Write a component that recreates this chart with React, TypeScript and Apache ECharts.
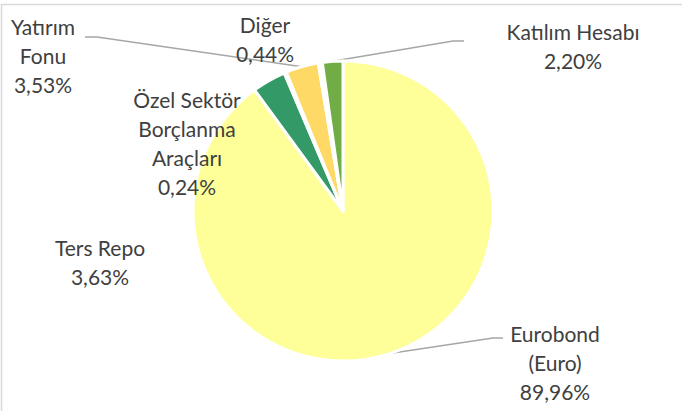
import React, { useEffect, useRef } from "react";
import * as echarts from "echarts";

const categories = [
  "Eurobond\n(Euro)",
  "Ters Repo",
  "Özel Sektör\nBorçlanma\nAraçları",
  "Yatırım\nFonu",
  "Diğer",
  "Katılım Hesabı",
];
const values = [89.96, 3.63, 0.24, 3.53, 0.44, 2.2];
const colors = ["#FFFF99", "#339966", "#FFFFFF", "#FFD966", "#FFFFFF", "#70AD47"];

// label layout (center of text block, optional leader line knee/end)
const labelLayouts: { x: number; y: number; line?: number[][] }[] = [
  { x: 555, y: 362, line: [[493, 338], [503, 338]] },
  { x: 100, y: 262 },
  { x: 187, y: 143 },
  { x: 43, y: 55, line: [[97, 37], [85, 37]] },
  { x: 265, y: 39 },
  { x: 573, y: 46, line: [[453, 41], [464, 41]] },
];

export default function App() {
  const ref = useRef<HTMLDivElement>(null);
  useEffect(() => {
    document.body.style.margin = "0";
    const chart = echarts.init(ref.current!, null, { renderer: "svg" });
    const data = categories.map((name, i) => ({
      name,
      value: values[i],
      itemStyle: { color: colors[i] },
      labelLine: { show: !!labelLayouts[i].line },
    }));
    chart.setOption({
      animation: false,
      backgroundColor: "#ffffff",
      graphic: [
        {
          type: "polyline",
          shape: { points: [[1.5, 420], [1.5, 4.5], [700, 4.5]] },
          style: { stroke: "#d9d9d9", lineWidth: 1.5, fill: "none" },
          silent: true,
        },
      ],
      series: [
        {
          type: "pie",
          center: [343, 211],
          radius: 150,
          startAngle: 90,
          clockwise: true,
          data,
          itemStyle: { borderColor: "#ffffff", borderWidth: 3 },
          label: {
            show: true,
            position: "outside",
            formatter: (p: any) =>
              p.name + "\n" + p.value.toFixed(2).replace(".", ",") + "%",
            fontFamily: "Lato",
            fontSize: 21,
            lineHeight: 29,
            color: "#404040",
            align: "center",
          },
          labelLine: {
            show: true,
            lineStyle: { color: "#a6a6a6", width: 1.5 },
          },
          labelLayout: (params: any) => {
            const cfg = labelLayouts[params.dataIndex];
            const res: any = {
              x: cfg.x,
              y: cfg.y,
              align: "center",
              verticalAlign: "middle",
            };
            if (cfg.line && params.labelLinePoints) {
              res.labelLinePoints = [params.labelLinePoints[0], ...cfg.line];
            }
            return res;
          },
          emphasis: { disabled: true },
        },
      ],
    });
    return () => chart.dispose();
  }, []);
  return <div ref={ref} style={{ width: 682, height: 411 }} />;
}
